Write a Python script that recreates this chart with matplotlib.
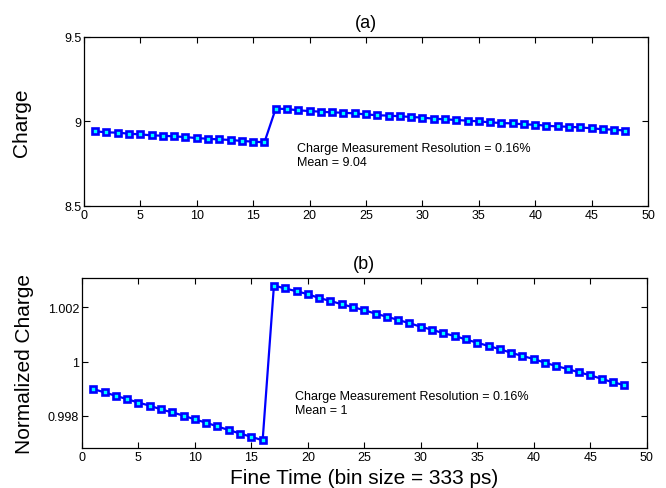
"""Charge and normalized charge versus fine-time bin."""

import matplotlib

matplotlib.use("Agg")
import matplotlib.pyplot as plt
import numpy as np

fine_bins = np.arange(1, 49)

charge = [
    8.941, 8.935, 8.933, 8.927, 8.923, 8.917, 8.915, 8.911,
    8.907, 8.901, 8.897, 8.893, 8.890, 8.884, 8.880, 8.876,
    9.075, 9.073, 9.065, 9.061, 9.057, 9.053, 9.051, 9.047,
    9.041, 9.036, 9.034, 9.030, 9.026, 9.022, 9.016, 9.012,
    9.008, 9.004, 9.000, 8.994, 8.990, 8.988, 8.982, 8.980,
    8.974, 8.970, 8.968, 8.964, 8.959, 8.953, 8.951, 8.945,
]

norm_charge = [
    0.99899, 0.99887, 0.99874, 0.99862, 0.99849, 0.99838, 0.99824, 0.99813,
    0.99801, 0.99787, 0.99775, 0.99761, 0.99748, 0.99735, 0.99723, 0.99710,
    1.00281, 1.00270, 1.00260, 1.00249, 1.00235, 1.00224, 1.00212, 1.00201,
    1.00190, 1.00177, 1.00166, 1.00154, 1.00142, 1.00129, 1.00118, 1.00105,
    1.00095, 1.00082, 1.00070, 1.00058, 1.00046, 1.00033, 1.00021, 1.00010,
    0.99996, 0.99984, 0.99973, 0.99961, 0.99950, 0.99937, 0.99924, 0.99914,
]

charge_yticks = [8.5, 9.0, 9.5]
charge_yticklabels = ["8.5", "9", "9.5"]
norm_yticks = [0.998, 1.0, 1.002]
norm_yticklabels = ["0.998", "1", "1.002"]
xticks = np.arange(0, 51, 5)

resolution_pct = 0.16
mean_charge = 9.04
mean_norm = 1

plt.rcParams["font.family"] = ["Liberation Sans", "DejaVu Sans"]


def style_axes(ax):
    ax.set_xlim(0, 50)
    ax.set_xticks(xticks)
    ax.tick_params(direction="in", top=True, right=True, length=4,
                   width=0.8, labelsize=9, pad=2)
    for sp in ax.spines.values():
        sp.set_linewidth(0.9)


def draw_series(ax, y):
    ax.plot(fine_bins, y, color="#0000ff", lw=1.6, marker="s", ms=4.6,
            mfc="#00ffff", mec="#0000ff", mew=1.9)


fig = plt.figure(figsize=(6.66, 4.89), dpi=100)
ax_a = fig.add_axes([0.126, 0.577, 0.847, 0.3456])
ax_b = fig.add_axes([0.123, 0.082, 0.848, 0.3476])

draw_series(ax_a, charge)
style_axes(ax_a)
ax_a.set_ylim(8.5, 9.5)
ax_a.set_yticks(charge_yticks)
ax_a.set_yticklabels(charge_yticklabels)
ax_a.set_ylabel("Charge", fontsize=15, labelpad=24)
ax_a.set_title("(a)", fontsize=13, pad=7)
ax_a.text(18.9, 8.80,
          f"Charge Measurement Resolution = {resolution_pct:.2f}%\nMean = {mean_charge:.2f}",
          fontsize=9, ha="left", va="center", linespacing=1.2)

draw_series(ax_b, norm_charge)
style_axes(ax_b)
ax_b.set_ylim(0.99682, 1.00309)
ax_b.set_yticks(norm_yticks)
ax_b.set_yticklabels(norm_yticklabels)
ax_b.set_ylabel("Normalized Charge", fontsize=15, labelpad=10)
ax_b.set_xlabel("Fine Time (bin size = 333 ps)", fontsize=15, labelpad=4)
ax_b.set_title("(b)", fontsize=13, pad=7)
ax_b.text(18.85, 0.99847,
          f"Charge Measurement Resolution = {resolution_pct:.2f}%\nMean = {mean_norm}",
          fontsize=9, ha="left", va="center", linespacing=1.2)

fig.savefig("out.png", dpi=100)
